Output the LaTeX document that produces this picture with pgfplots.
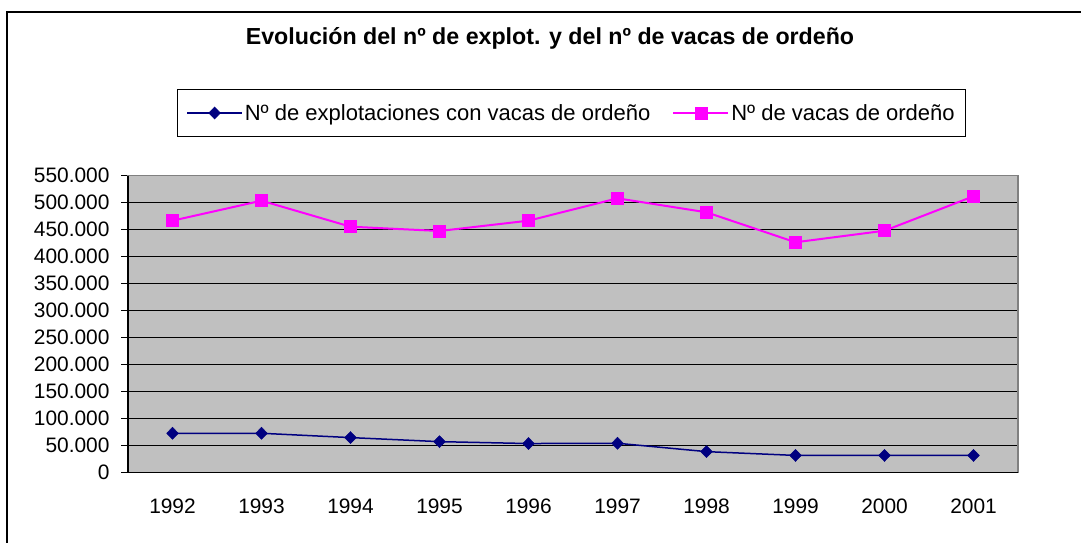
\documentclass[border=0pt]{standalone}
\usepackage{pgfplots}
\pgfplotsset{compat=1.18}
\usepackage{fontspec}
\setmainfont{Liberation Sans}
\definecolor{navyc}{RGB}{0,0,128}
\definecolor{mag}{RGB}{255,0,255}
\definecolor{plotgray}{RGB}{192,192,192}
\newcommand{\fs}{\fontsize{20.9}{24}\selectfont}
\newcommand{\fl}{\fontsize{22}{26}\selectfont}
\begin{document}
\begin{tikzpicture}[x=1pt,y=1pt]
\useasboundingbox (0,0) rectangle (1081,543);
\draw[line width=2pt] (7,-2) -- (7,531) -- (1083,531);
\node[font=\fontsize{23.2}{27}\selectfont\bfseries] at (550,505) {Evolución del nº de explot. y del nº de vacas de ordeño};
\begin{axis}[
  at={(128pt,70.3pt)}, anchor=south west,
  scale only axis, width=890pt, height=297pt,
  xmin=0.5, xmax=10.5, ymin=0, ymax=550000,
  clip=false,
  axis background/.style={fill=plotgray},
  axis line style={draw=gray, line width=1.5pt},
  ytick={0,50000,100000,150000,200000,250000,300000,350000,400000,450000,500000,550000},
  yticklabels={0,50.000,100.000,150.000,200.000,250.000,300.000,350.000,400.000,450.000,500.000,550.000},
  ymajorgrids, grid style={black, line width=1.3pt},
  xtick={1,2,3,4,5,6,7,8,9,10},
  xticklabels={1992,1993,1994,1995,1996,1997,1998,1999,2000,2001},
  x tick style={draw=none},
  minor xtick={0.5,1.5,2.5,3.5,4.5,5.5,6.5,7.5,8.5,9.5,10.5},
  minor x tick style={black, line width=1.3pt},
  y tick style={black, line width=1.3pt},
  major tick length=7pt, minor tick length=7pt,
  tick align=outside, tick pos=left,
  scaled y ticks=false,
  tick label style={font=\fs},
  yticklabel style={xshift=-8pt},
  xticklabel style={yshift=-16pt},
  legend columns=2,
  legend style={at={(0.4983,1.2111)}, anchor=center, draw=black, line width=1.5pt,
    font=\fl, inner xsep=9pt, inner ysep=13pt,
    /tikz/every even column/.append style={column sep=20pt}},
  legend image code/.code={\draw[#1, mark repeat=2, mark phase=2] plot coordinates {(0pt,0pt)(27.5pt,0pt)(55pt,0pt)};},
]
\addplot[navyc, line width=1.5pt, mark=diamond*, mark size=6pt, mark options={fill=navyc, solid, xscale=1.3, line width=0.5pt}] coordinates {
 (1,73000) (2,73000) (3,65000) (4,57500) (5,54000) (6,54500) (7,39000) (8,32000) (9,32000) (10,32000)};
\addlegendentry{Nº de explotaciones con vacas de ordeño}
\addplot[mag, line width=2pt, mark=square*, mark size=6pt, mark options={fill=mag, solid, line width=0.5pt}] coordinates {
 (1,466700) (2,503700) (3,455600) (4,447600) (5,466700) (6,508100) (7,482200) (8,426700) (9,448100) (10,511900)};
\addlegendentry{Nº de vacas de ordeño}
\draw[black, line width=1.5pt] (rel axis cs:0,1) -- (rel axis cs:0,0) -- (rel axis cs:1,0);
\end{axis}
\end{tikzpicture}
\end{document}
